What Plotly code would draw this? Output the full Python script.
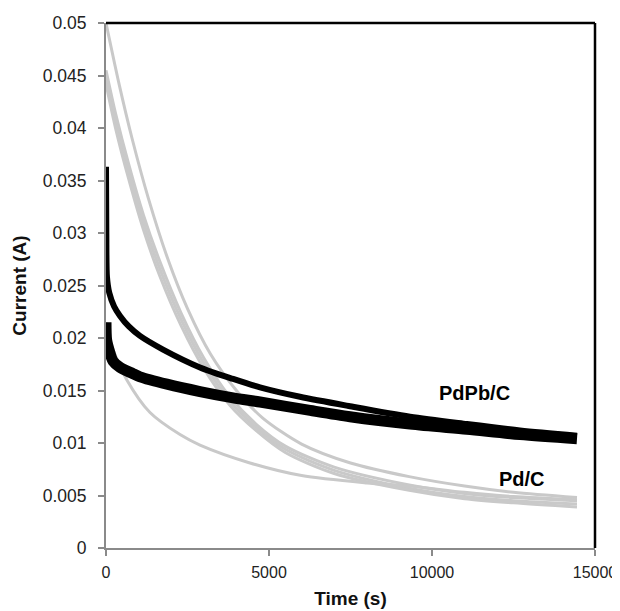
import plotly.graph_objects as go

# time (s) and current (A)
pdpb_t1 = [0, 10, 30, 100, 250, 430, 700, 1043, 1750, 2883, 3900, 4724, 5950, 7485, 9325, 11070, 12700, 14448]
pdpb_i1 = [0.0363, 0.030, 0.0258, 0.0243, 0.0230, 0.0221, 0.0211, 0.0202, 0.0189, 0.0172, 0.0161, 0.0153,
           0.0144, 0.0135, 0.0125, 0.0118, 0.0112, 0.0107]

pdpb_t2 = [0, 20, 100, 215, 430, 830, 1043, 1870, 2883, 3900, 4724, 6260, 7485, 9325, 11070, 12700, 14448]
pdpb_i2 = [0.0215, 0.0198, 0.0188, 0.0178, 0.0172, 0.0166, 0.0163, 0.0156, 0.0149, 0.0143, 0.0139, 0.0131,
           0.0125, 0.0118, 0.0113, 0.0108, 0.0104]

pd_t1 = [0, 400, 800, 1300, 1900, 2500, 3200, 4000, 4800, 6000, 7500, 9300, 11000, 12500, 14448]
pd_i1 = [0.0500, 0.0442, 0.0390, 0.0333, 0.0275, 0.0228, 0.0185, 0.0150, 0.0124, 0.0099, 0.0081, 0.0068,
         0.0059, 0.0053, 0.0048]

pd_t2 = [0, 300, 700, 1150, 1650, 2300, 3000, 3800, 4600, 5500, 7000, 9300, 11000, 12500, 14448]
pd_i2 = [0.0455, 0.0413, 0.0365, 0.0317, 0.0273, 0.0224, 0.0181, 0.0144, 0.0118, 0.0097, 0.0077, 0.0060,
         0.0052, 0.0048, 0.0045]

pd_t3 = [0, 300, 700, 1150, 1650, 2300, 3000, 3800, 4600, 5500, 7000, 9300, 11000, 12500, 14448]
pd_i3 = [0.0448, 0.0406, 0.0358, 0.0310, 0.0266, 0.0218, 0.0176, 0.0140, 0.0115, 0.0094, 0.0074, 0.0057,
         0.0049, 0.0045, 0.0042]

pd_t4 = [0, 300, 700, 1150, 1650, 2300, 3000, 3800, 4600, 5500, 7000, 9300, 11000, 12500, 14448]
pd_i4 = [0.0442, 0.0399, 0.0351, 0.0303, 0.0259, 0.0212, 0.0171, 0.0136, 0.0112, 0.0091, 0.0071, 0.0055,
         0.0047, 0.0043, 0.0039]

pd_t5 = [0, 100, 215, 640, 1350, 2270, 2883, 4417, 6000, 8000, 9325, 11000, 12500, 14448]
pd_i5 = [0.0215, 0.0200, 0.0189, 0.0160, 0.0129, 0.0108, 0.0098, 0.0081, 0.0069, 0.0062, 0.0059, 0.0053,
         0.0049, 0.0046]

x_ticks = [0, 5000, 10000, 15000]

GRAY = "#c9c9c9"
AXIS = "#8a8a8a"
FONT = "Liberation Sans, Arial, sans-serif"

fig = go.Figure()

for t, i in [(pd_t1, pd_i1), (pd_t2, pd_i2), (pd_t3, pd_i3), (pd_t4, pd_i4), (pd_t5, pd_i5)]:
    fig.add_trace(go.Scatter(x=t, y=i, mode="lines", line=dict(color=GRAY, width=3, shape="spline", smoothing=0.8),
                             showlegend=False, hoverinfo="skip"))

fig.add_trace(go.Scatter(x=pdpb_t1, y=pdpb_i1, mode="lines",
                         line=dict(color="black", width=6, shape="spline", smoothing=0.8),
                         showlegend=False, hoverinfo="skip"))
fig.add_trace(go.Scatter(x=pdpb_t2, y=pdpb_i2, mode="lines",
                         line=dict(color="black", width=11, shape="spline", smoothing=0.8),
                         showlegend=False, hoverinfo="skip"))

fig.add_annotation(x=11300, y=0.0148, text="<b>PdPb/C</b>", showarrow=False,
                   font=dict(family=FONT, size=20, color="black"))
fig.add_annotation(x=12750, y=0.0066, text="<b>Pd/C</b>", showarrow=False,
                   font=dict(family=FONT, size=20, color="black"))

# black frame on top and right, grey axis lines left and bottom
fig.add_shape(type="line", xref="paper", yref="paper", x0=0, x1=1, y0=1, y1=1,
              line=dict(color="black", width=2.5))
fig.add_shape(type="line", xref="paper", yref="paper", x0=1, x1=1, y0=0, y1=1,
              line=dict(color="black", width=2.5))

# the page body adds an 8 px offset, so margins are shifted by that much
fig.update_layout(
    width=620,
    height=611,
    margin=dict(l=98, r=33, t=15, b=71),
    plot_bgcolor="white",
    paper_bgcolor="white",
    font=dict(family=FONT, size=18, color="#222"),
    xaxis=dict(
        range=[0, 15000],
        tickvals=x_ticks,
        tickformat="d",
        showgrid=False,
        zeroline=False,
        showline=True,
        linecolor=AXIS,
        linewidth=2,
        ticks="outside",
        ticklen=6,
        tickcolor=AXIS,
        tickwidth=1.5,
        ticklabelstandoff=3,
        automargin=False,
        tickfont=dict(family=FONT, size=16, color="#222"),
        title=dict(text="<b>Time (s)</b>", font=dict(family=FONT, size=19, color="#111"), standoff=11),
    ),
    yaxis=dict(
        range=[0, 0.05],
        dtick=0.005,
        tickformat="~g",
        showgrid=False,
        zeroline=False,
        showline=True,
        linecolor=AXIS,
        linewidth=2,
        ticks="outside",
        ticklen=6,
        tickcolor=AXIS,
        tickwidth=1.5,
        ticklabelstandoff=8,
        automargin=False,
        tickfont=dict(family=FONT, size=17.5, color="#222"),
        title=dict(text="<b>Current (A)</b>", font=dict(family=FONT, size=19, color="#111"), standoff=11),
    ),
)

fig.write_html("out.html")
